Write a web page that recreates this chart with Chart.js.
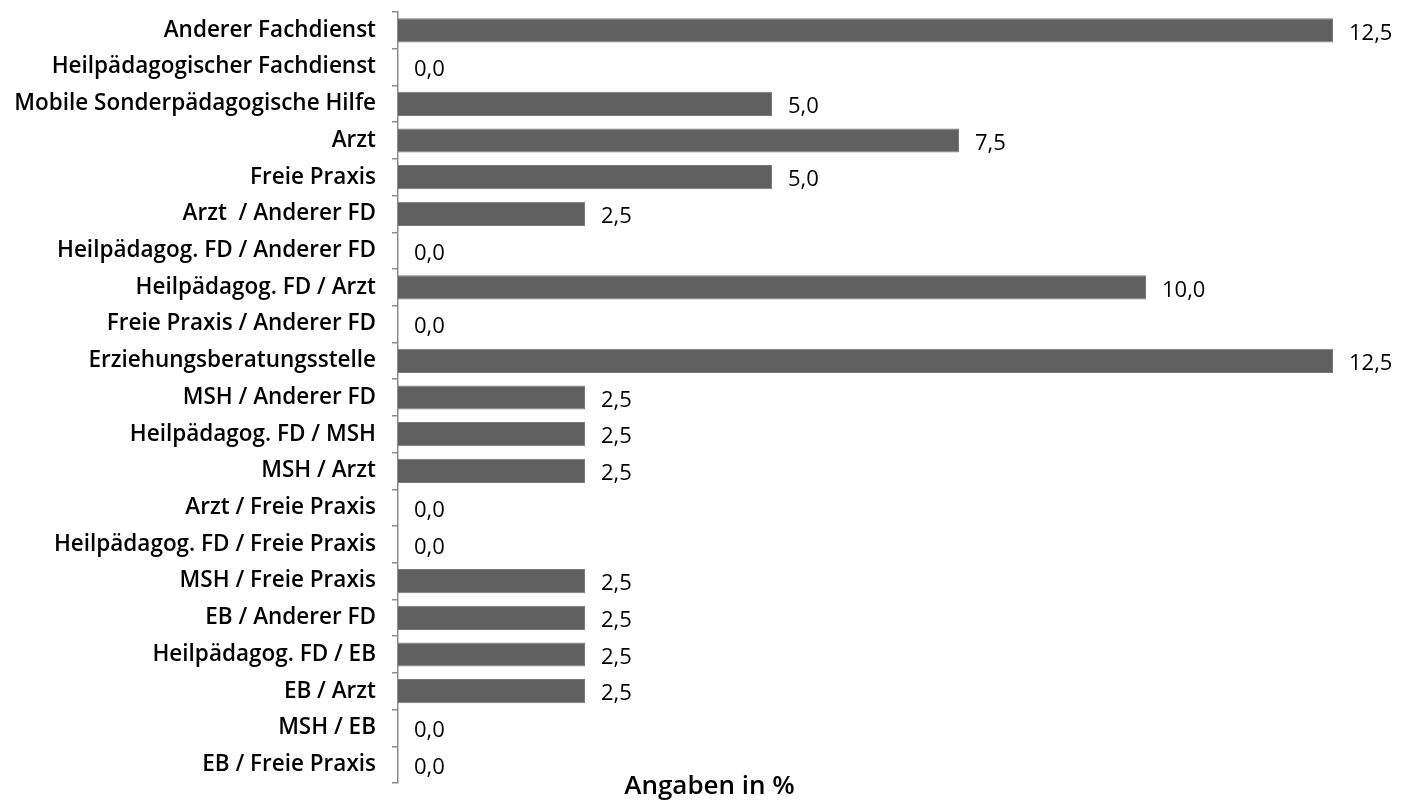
<!DOCTYPE html>
<html>
<head>
<meta charset="utf-8">
<script src="https://cdn.jsdelivr.net/npm/chart.js@4"></script>
<style>
  html, body { margin: 0; padding: 0; background: #fff; }
  #wrap { width: 1401px; height: 805px; }
</style>
</head>
<body>
<div id="wrap"><canvas id="grafico"></canvas></div>
<script>
const kategorien = [
  "Anderer Fachdienst",
  "Heilpädagogischer Fachdienst",
  "Mobile Sonderpädagogische Hilfe",
  "Arzt",
  "Freie Praxis",
  "Arzt  / Anderer FD",
  "Heilpädagog. FD / Anderer FD",
  "Heilpädagog. FD / Arzt",
  "Freie Praxis / Anderer FD",
  "Erziehungsberatungsstelle",
  "MSH / Anderer FD",
  "Heilpädagog. FD / MSH",
  "MSH / Arzt",
  "Arzt / Freie Praxis",
  "Heilpädagog. FD / Freie Praxis",
  "MSH / Freie Praxis",
  "EB / Anderer FD",
  "Heilpädagog. FD / EB",
  "EB / Arzt",
  "MSH / EB",
  "EB / Freie Praxis"
];
const anteile = [12.5, 0, 5, 7.5, 5, 2.5, 0, 10, 0, 12.5, 2.5, 2.5, 2.5, 0, 0, 2.5, 2.5, 2.5, 2.5, 0, 0];
const achsenTitel = "Angaben in %";

const schrift = "'Open Sans', sans-serif";

// Werte rechts neben die Balken schreiben (mit Komma) + Achsentitel unten
const beschriftung = {
  id: "beschriftung",
  afterDatasetsDraw(chart) {
    const { ctx } = chart;
    const meta = chart.getDatasetMeta(0);
    ctx.save();
    ctx.font = "500 22px " + schrift;
    ctx.fillStyle = "#000";
    ctx.textBaseline = "middle";
    ctx.textAlign = "left";
    meta.data.forEach((bar, i) => {
      const txt = anteile[i].toFixed(1).replace(".", ",");
      ctx.fillText(txt, bar.x + 16, bar.y + 3);
    });

    ctx.font = "600 26px " + schrift;
    ctx.textAlign = "center";
    ctx.fillText(achsenTitel, chart.width / 2 + 9, chart.chartArea.bottom + 4);
    ctx.restore();
  },
};

new Chart(document.getElementById("grafico"), {
  type: "bar",
  data: {
    labels: kategorien,
    datasets: [
      {
        data: anteile,
        backgroundColor: "#606060",
        borderColor: "#7a7a7a",
        borderWidth: 1,
        barPercentage: 0.66,
        categoryPercentage: 1,
      },
    ],
  },
  options: {
    indexAxis: "y",
    responsive: true,
    maintainAspectRatio: false,
    animation: false,
    layout: { padding: { top: 12, right: 68, bottom: 22, left: 0 } },
    scales: {
      x: {
        display: false,
        min: 0,
        max: 12.5,
      },
      y: {
        afterFit(scale) {
          scale.width = 398;
          scale.paddingTop = 0;
          scale.paddingBottom = 0;
        },
        grid: {
          drawOnChartArea: false,
          tickLength: 6,
          color: "#8c8c8c",
          lineWidth: 1.5,
        },
        border: { color: "#8c8c8c", width: 1.5 },
        ticks: {
          color: "#000",
          padding: 16,
          autoSkip: false,
          font: { family: schrift, size: 22.5, weight: "600" },
        },
      },
    },
    plugins: {
      legend: { display: false },
      tooltip: { enabled: false },
    },
  },
  plugins: [beschriftung],
});
</script>
</body>
</html>
